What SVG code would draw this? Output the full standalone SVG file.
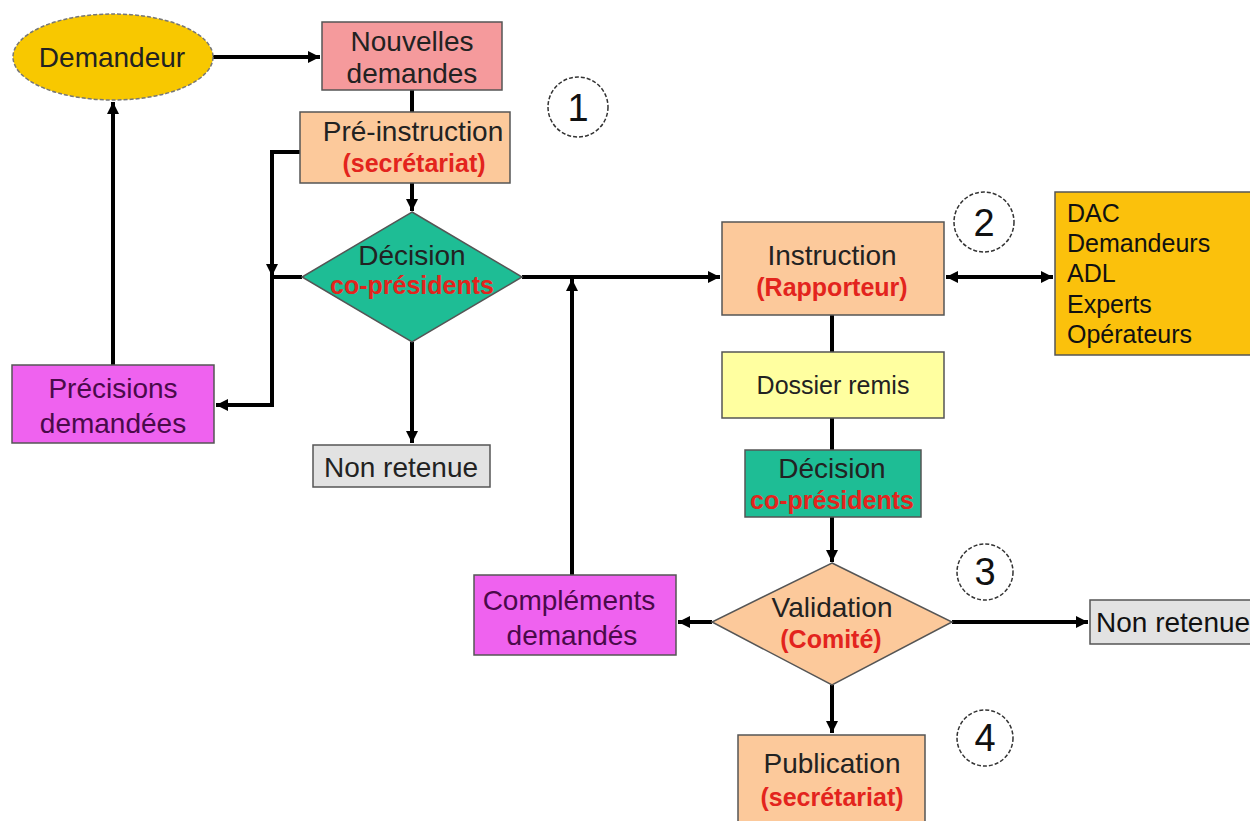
<svg xmlns="http://www.w3.org/2000/svg" width="1250" height="821" viewBox="0 0 1250 821">
<defs>
<marker id="ah" viewBox="0 0 10 10" refX="10" refY="5" markerWidth="14" markerHeight="12" markerUnits="userSpaceOnUse" orient="auto-start-reverse">
<path d="M0,0 L10,5 L0,10 z" fill="#000"/>
</marker>
<style>
text{font-family:"Liberation Sans",Arial,sans-serif;font-size:28px;text-anchor:middle;fill:#222}
.red{fill:#e3241d;font-weight:bold;font-size:25px}
.mag{fill:#4a0a4a}
.num{font-size:38px;fill:#111}
.lst{text-anchor:start;fill:#111;font-size:25px}
.box{stroke:#555;stroke-width:1.5}
.peach{fill:#fcc99b}
.teal{fill:#1ebd95}
.magenta{fill:#ef62ef}
.grey{fill:#e2e2e2}
.circ{fill:#fff;stroke:#333;stroke-width:1.5;stroke-dasharray:4 2}
.c{fill:none;stroke:#000;stroke-width:4}
</style>
</defs>
<rect width="1250" height="821" fill="#fff"/>
<g id="connectors">
<path class="c" d="M213,57 H320" marker-end="url(#ah)"/>
<path class="c" d="M412,90 V112"/>
<path class="c" d="M412,183 V211" marker-end="url(#ah)"/>
<path class="c" d="M300,152 H272 V276" marker-end="url(#ah)"/>
<path class="c" d="M302,277 H272 V405 H216" marker-end="url(#ah)"/>
<path class="c" d="M113,365 V102" marker-end="url(#ah)"/>
<path class="c" d="M412,342 V443" marker-end="url(#ah)"/>
<path class="c" d="M522,277 H720" marker-end="url(#ah)"/>
<path class="c" d="M572,575 V279" marker-end="url(#ah)"/>
<path class="c" d="M946,277 H1053" marker-start="url(#ah)" marker-end="url(#ah)"/>
<path class="c" d="M832,315 V352"/>
<path class="c" d="M832,418 V450"/>
<path class="c" d="M832,517 V562" marker-end="url(#ah)"/>
<path class="c" d="M712,622 H678" marker-end="url(#ah)"/>
<path class="c" d="M952,622 H1088" marker-end="url(#ah)"/>
<path class="c" d="M832,685 V733" marker-end="url(#ah)"/>
</g>
<g id="demandeur">
<ellipse cx="113" cy="57" rx="100" ry="43" fill="#f8c800" stroke="#777" stroke-width="1.5" stroke-dasharray="4 2"/>
<text x="112" y="67">Demandeur</text>
</g>
<g id="nouvelles">
<rect class="box" x="322" y="22" width="180" height="68" fill="#f59a9c"/>
<text x="412" y="51">Nouvelles</text>
<text x="412" y="83">demandes</text>
</g>
<g id="preinstruction">
<rect class="box peach" x="300" y="112" width="210" height="71"/>
<text x="413" y="141">Pré-instruction</text>
<text class="red" x="414" y="172">(secrétariat)</text>
</g>
<g id="n1"><circle class="circ" cx="578" cy="107" r="30"/><text class="num" x="578" y="121">1</text></g>
<g id="decision1">
<polygon class="box teal" points="412,212 522,277 412,342 302,277"/>
<text x="412" y="265">Décision</text>
<text class="red" x="412" y="294">co-présidents</text>
</g>
<g id="precisions">
<rect class="box magenta" x="12" y="365" width="202" height="78"/>
<text class="mag" x="113" y="398">Précisions</text>
<text class="mag" x="113" y="433">demandées</text>
</g>
<g id="nonretenue1">
<rect class="box grey" x="313" y="445" width="177" height="42"/>
<text x="401" y="477">Non retenue</text>
</g>
<g id="instruction">
<rect class="box peach" x="722" y="222" width="222" height="93"/>
<text x="832" y="265">Instruction</text>
<text class="red" x="832" y="296">(Rapporteur)</text>
</g>
<g id="n2"><circle class="circ" cx="984" cy="222" r="30"/><text class="num" x="984" y="236">2</text></g>
<g id="acteurs">
<rect class="box" x="1055" y="192" width="200" height="163" fill="#fbc10c"/>
<text class="lst" x="1067" y="222">DAC</text>
<text class="lst" x="1067" y="252">Demandeurs</text>
<text class="lst" x="1067" y="282">ADL</text>
<text class="lst" x="1067" y="313">Experts</text>
<text class="lst" x="1067" y="343">Opérateurs</text>
</g>
<g id="dossier">
<rect class="box" x="722" y="352" width="222" height="66" fill="#ffffa0"/>
<text x="833" y="394" style="font-size:25px">Dossier remis</text>
</g>
<g id="decision2">
<rect class="box teal" x="745" y="450" width="176" height="67"/>
<text x="832" y="478">Décision</text>
<text class="red" x="832" y="509">co-présidents</text>
</g>
<g id="n3"><circle class="circ" cx="985" cy="572" r="28"/><text class="num" x="985" y="585">3</text></g>
<g id="validation">
<polygon class="box peach" points="832,563 952,622 832,685 712,622"/>
<text x="832" y="617">Validation</text>
<text class="red" x="831" y="648">(Comité)</text>
</g>
<g id="complements">
<rect class="box magenta" x="474" y="575" width="202" height="80"/>
<text class="mag" x="569" y="610">Compléments</text>
<text class="mag" x="572" y="645">demandés</text>
</g>
<g id="nonretenue2">
<rect class="box grey" x="1090" y="600" width="170" height="44"/>
<text class="lst" x="1096" y="632" style="font-size:28px">Non retenue</text>
</g>
<g id="n4"><circle class="circ" cx="985" cy="738" r="28"/><text class="num" x="985" y="751">4</text></g>
<g id="publication">
<rect class="box peach" x="738" y="735" width="187" height="90"/>
<text x="832" y="773">Publication</text>
<text class="red" x="832" y="806">(secrétariat)</text>
</g>
</svg>
